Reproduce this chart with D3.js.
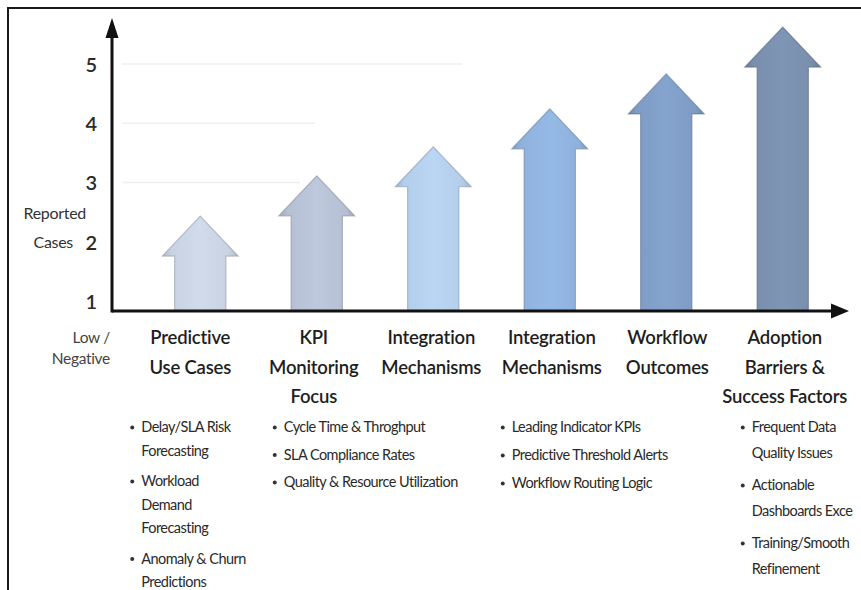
<!DOCTYPE html>
<html>
<head>
<meta charset="utf-8">
<script src="https://cdn.jsdelivr.net/npm/d3@7"></script>
<style>
  body { margin: 0; background: #fff; }
  svg { display: block; font-family: Lato, "Open Sans", sans-serif; }
</style>
</head>
<body>
<div id="chart"></div>
<script>
// categories, each label already split into its lines
var categories = [
  ["Predictive", "Use Cases"],
  ["KPI", "Monitoring", "Focus"],
  ["Integration", "Mechanisms"],
  ["Integration", "Mechanisms"],
  ["Workflow", "Outcomes"],
  ["Adoption", "Barriers &", "Success Factors"]
];
// reported cases (arrow tip heights)
var values = [2.45, 3.13, 3.62, 4.26, 4.85, 5.64];
var yTicks = [1, 2, 3, 4, 5];
var gridTicks = [3, 4, 5];
var colors = ["#c8d2e1", "#b6c0d4", "#b3cdea", "#8fb1dc", "#7e9cc5", "#7a8fad"];
// bullet items, each item split into its lines
var bullets = [
  [["Delay/SLA Risk", "Forecasting"], ["Workload", "Demand", "Forecasting"], ["Anomaly & Churn", "Predictions"]],
  [["Cycle Time & Throghput"], ["SLA Compliance Rates"], ["Quality & Resource Utilization"]],
  [],
  [["Leading Indicator KPIs"], ["Predictive Threshold Alerts"], ["Workflow Routing Logic"]],
  [],
  [["Frequent Data", "Quality Issues"], ["Actionable", "Dashboards Exce"], ["Training/Smooth", "Refinement"]]
];

var w = 861, h = 590;
var axisX = 112, axisY = 311;
var headH = 40;

// layout of the bullet columns (offset from band centre, line height, gap between items)
var bulletLayout = [
  {dx: -68, lh: 23.5, gap: 7},
  {dx: -42, lh: 27.5, gap: 0},
  {dx: 0, lh: 0, gap: 0},
  {dx: -47, lh: 28, gap: 0},
  {dx: 0, lh: 0, gap: 0},
  {dx: -40, lh: 26, gap: 6}
];

var x = d3.scaleBand()
  .domain(d3.range(categories.length))
  .range([142, 841])
  .paddingInner(0.56)
  .paddingOuter(0.28);

var y = d3.scaleLinear()
  .domain([1, 5])
  .range([302, 65]);

var svg = d3.select('#chart')
  .append('svg')
    .attr('width', w)
    .attr('height', h);

var defs = svg.append('defs');

colors.forEach(function (c, i) {
  var g = defs.append('linearGradient')
    .attr('id', 'grad' + i)
    .attr('x1', 0).attr('x2', 1).attr('y1', 0).attr('y2', 0);
  var dark = d3.color(c).darker(0.35);
  var light = d3.color(c).brighter(0.12);
  g.append('stop').attr('offset', '0%').attr('stop-color', dark);
  g.append('stop').attr('offset', '12%').attr('stop-color', c);
  g.append('stop').attr('offset', '50%').attr('stop-color', light);
  g.append('stop').attr('offset', '88%').attr('stop-color', c);
  g.append('stop').attr('offset', '100%').attr('stop-color', dark);
});

// outer frame (clipped on the right and bottom)
svg.append('rect')
  .attr('x', 8).attr('y', 8)
  .attr('width', 900).attr('height', 700)
  .attr('fill', 'none')
  .attr('stroke', '#1a1a1a')
  .attr('stroke-width', 2);

// faint grid lines
svg.append('g')
  .selectAll('line')
  .data(gridTicks)
  .enter()
  .append('line')
    .attr('x1', axisX + 10)
    .attr('x2', function (d) { return d == 5 ? 462 : (d == 4 ? 315 : 300); })
    .attr('y1', function (d) { return y(d) - 1; })
    .attr('y2', function (d) { return y(d) - 1; })
    .attr('stroke', '#efefef')
    .attr('stroke-width', 1.5);

// arrows
svg.append('g')
  .selectAll('path.arrow')
  .data(values)
  .enter()
  .append('path')
    .attr('class', 'arrow')
    .attr('d', function (d, i) {
      var bw = x.bandwidth();
      var x0 = x(i), x1 = x(i) + bw, cx = x(i) + bw / 2;
      var hw = bw * 0.74;
      var tip = y(d), base = tip + headH;
      return 'M' + x0 + ',' + axisY +
        'L' + x0 + ',' + base +
        'L' + (cx - hw) + ',' + base +
        'L' + cx + ',' + tip +
        'L' + (cx + hw) + ',' + base +
        'L' + x1 + ',' + base +
        'L' + x1 + ',' + axisY + 'Z';
    })
    .attr('fill', function (d, i) { return 'url(#grad' + i + ')'; })
    .attr('stroke', function (d, i) { return d3.color(colors[i]).darker(0.8); })
    .attr('stroke-opacity', 0.6)
    .attr('stroke-width', 1.2)
    .attr('stroke-linejoin', 'miter');

// axes lines with arrow heads
svg.append('line')
  .attr('x1', axisX).attr('x2', axisX)
  .attr('y1', axisY + 1.5).attr('y2', 34)
  .attr('stroke', '#111').attr('stroke-width', 3);
svg.append('path')
  .attr('d', 'M' + (axisX - 6.5) + ',38L' + axisX + ',18L' + (axisX + 6.5) + ',38Z')
  .attr('fill', '#111');

svg.append('line')
  .attr('x1', axisX).attr('x2', 834)
  .attr('y1', axisY).attr('y2', axisY)
  .attr('stroke', '#111').attr('stroke-width', 3);
svg.append('path')
  .attr('d', 'M831,' + (axisY - 7.5) + 'L849,' + axisY + 'L831,' + (axisY + 7.5) + 'Z')
  .attr('fill', '#111');

// y tick labels
var yAxis = d3.axisLeft(y)
  .tickValues(yTicks)
  .tickSize(0)
  .tickPadding(0)
  .tickFormat(d3.format('d'));

var yg = svg.append('g')
  .attr('transform', 'translate(' + (axisX - 15) + ',0)')
  .call(yAxis);
yg.select('.domain').remove();
yg.selectAll('text')
  .attr('font-size', 20)
  .attr('font-weight', 600)
  .attr('fill', '#2b2b2b')
  .attr('font-family', 'Lato, sans-serif');

// y axis title
svg.append('text')
  .attr('x', 86).attr('y', 219)
  .attr('text-anchor', 'end')
  .attr('font-size', 16)
  .attr('letter-spacing', -0.3)
  .attr('fill', '#333')
  .text('Reported');
svg.append('text')
  .attr('x', 73).attr('y', 248)
  .attr('text-anchor', 'end')
  .attr('font-size', 16)
  .attr('letter-spacing', -0.3)
  .attr('fill', '#333')
  .text('Cases');

// low / negative
svg.append('text')
  .attr('x', 110).attr('y', 343)
  .attr('text-anchor', 'end')
  .attr('font-size', 15.5)
  .attr('letter-spacing', -0.3)
  .attr('fill', '#444')
  .text('Low /');
svg.append('text')
  .attr('x', 110).attr('y', 364)
  .attr('text-anchor', 'end')
  .attr('font-size', 15.5)
  .attr('letter-spacing', -0.3)
  .attr('fill', '#444')
  .text('Negative');

// category labels
var catOffset = [-10, -3, -2, 2, 1, 2];
var cats = svg.append('g')
  .selectAll('text.cat')
  .data(categories)
  .enter()
  .append('text')
    .attr('class', 'cat')
    .attr('text-anchor', 'middle')
    .attr('font-size', 18.5)
    .attr('font-weight', 600)
    .attr('letter-spacing', -0.2)
    .attr('fill', '#1e1e1e')
    .attr('transform', function (d, i) {
      return 'translate(' + (x(i) + x.bandwidth() / 2 + catOffset[i]) + ',344)';
    });

cats.selectAll('tspan')
  .data(function (d) { return d; })
  .enter()
  .append('tspan')
    .attr('x', 0)
    .attr('y', function (d, j) { return j * 29.5; })
    .text(function (d) { return d; });

// bullet lists
bullets.forEach(function (items, i) {
  if (!items.length) return;
  var lay = bulletLayout[i];
  var bx = x(i) + x.bandwidth() / 2 + lay.dx;
  var yy = 432;
  var g = svg.append('g').attr('class', 'bullets');
  items.forEach(function (lines) {
    g.append('circle')
      .attr('cx', bx)
      .attr('cy', yy - 4.5)
      .attr('r', 2)
      .attr('fill', '#333');
    lines.forEach(function (line) {
      g.append('text')
        .attr('x', bx + 9)
        .attr('y', yy)
        .attr('font-size', 14.5)
        .attr('letter-spacing', -0.55)
        .attr('fill', '#2a2a2a')
        .text(line);
      yy += lay.lh;
    });
    yy += lay.gap;
  });
});
</script>
</body>
</html>
